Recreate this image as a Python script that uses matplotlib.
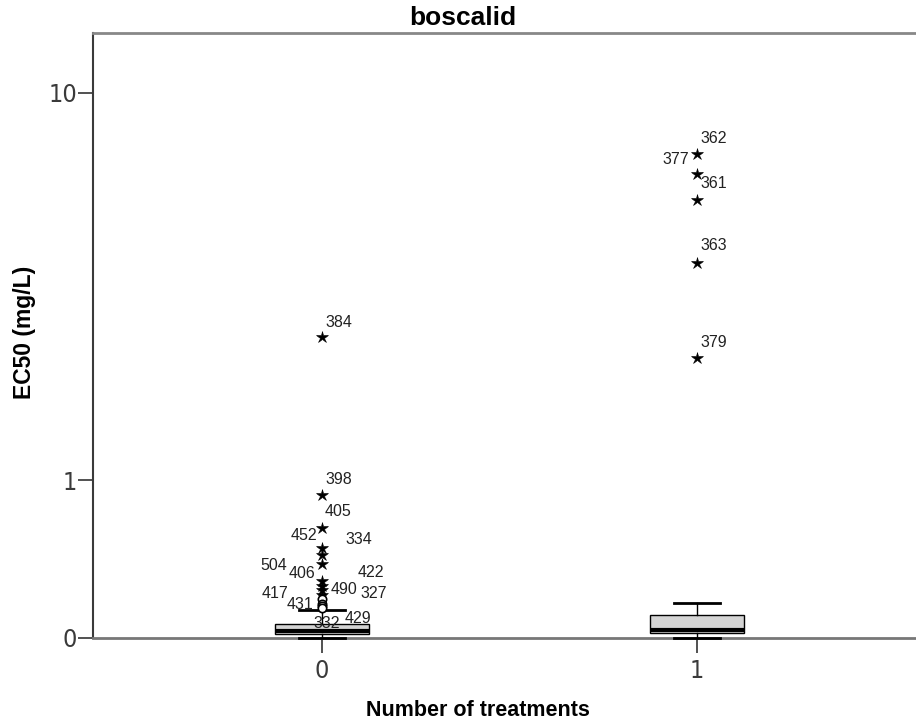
import numpy as np
import matplotlib
matplotlib.use("Agg")
import matplotlib.pyplot as plt
from matplotlib import font_manager


GROUPS = [0, 1]
# five-number summary per group, EC50 in mg/L
WHISLO = [0.0, 0.0]
Q1 = [0.016, 0.019]
MEDIAN = [0.031, 0.0345]
Q3 = [0.059, 0.105]
WHISHI = [0.130, 0.163]

# labelled cases outside the whiskers (case number, EC50, extreme?)
OUT0_IDS = [384, 398, 405, 452, 334, 504, 406, 422, 490, 327, 417, 431, 332, 429]
OUT0_VALS = [2.75, 0.87, 0.62, 0.48, 0.435, 0.385, 0.285, 0.257, 0.23, 0.208,
             0.187, 0.161, 0.15, 0.14]
OUT0_EXTREME = [True] * 10 + [False] * 4
OUT1_IDS = [362, 377, 361, 363, 379]
OUT1_VALS = [7.42, 6.71, 5.88, 4.21, 2.42]
OUT1_EXTREME = [True] * 5

# where each case label sits relative to its marker (pixels, alignment)
LABEL_POS0 = [(3, 15, "left"), (3, 16, "left"), (3, 16, "left"), (-5, 13, "right"),
              (23, 16, "left"), (-35, -2, "right"), (-7, 7, "right"), (36, 13, "left"),
              (9, 1, "left"), (38, 1, "left"), (-34, 5, "right"), (-9, -1, "right"),
              (-9, -18, "left"), (23, -11, "left")]
LABEL_POS1 = [(3, 15, "left"), (-8, 14, "right"), (3, 16, "left"),
              (3, 17, "left"), (3, 16, "left")]

SANS = ["Liberation Sans", "DejaVu Sans"]
# narrow face for the tick numbers if one is installed
_names = {f.name for f in font_manager.fontManager.ttflist}
if "Liberation Sans Narrow" in _names:
    TICK_FONT = dict(family="Liberation Sans Narrow")
else:
    TICK_FONT = dict(family="DejaVu Sans", stretch="condensed", weight="light")
print(sorted(n for n in _names if "Narrow" in n or "Condensed" in n))


def fwd(v):
    return np.log10(1 + np.clip(v, -0.99, None))


def inv(u):
    return 10 ** u - 1


W, H = 916, 724
fig = plt.figure(figsize=(W / 100, H / 100), dpi=100)
x0, x1, y_top, y_bot = 93, 926, 33, 637.5
ax = fig.add_axes([x0 / W, 1 - y_bot / H, (x1 - x0) / W, (y_bot - y_top) / H])
ax.set_yscale("function", functions=(fwd, inv))
ax.set_ylim(0, inv((y_bot - y_top) / 522.9))
ax.set_xlim(-0.6107, 1.6107)

stats = []
for i, g in enumerate(GROUPS):
    stats.append({"whislo": WHISLO[i], "q1": Q1[i], "med": MEDIAN[i],
                  "q3": Q3[i], "whishi": WHISHI[i], "fliers": []})
art = ax.bxp(stats, positions=GROUPS, widths=0.25, patch_artist=True,
             showfliers=False, capwidths=0.125,
             boxprops=dict(facecolor="#d4d4d4", edgecolor="black", linewidth=1),
             medianprops=dict(color="black", linewidth=3),
             whiskerprops=dict(color="black", linewidth=1),
             capprops=dict(color="black", linewidth=2))
for key in ("boxes", "medians", "whiskers", "caps"):
    for a in art[key]:
        a.set_zorder(3)
        a.set_clip_on(False)

for g, ids, vals, ext, pos in [(0, OUT0_IDS, OUT0_VALS, OUT0_EXTREME, LABEL_POS0),
                               (1, OUT1_IDS, OUT1_VALS, OUT1_EXTREME, LABEL_POS1)]:
    for cid, v, e, (dx, dy, ha) in zip(ids, vals, ext, pos):
        if e:
            ax.plot(g, v, marker="*", ms=9, mfc="black", mec="black",
                    mew=0.4, zorder=4)
        else:
            ax.plot(g, v, marker="o", ms=6, mfc="white", mec="black",
                    mew=1.2, zorder=4)
        ax.annotate(str(cid), xy=(g, v), xytext=(dx, dy),
                    textcoords="offset pixels", ha=ha, va="center",
                    fontsize=11.5, family=SANS, color="#222222")

ax.set_yticks([0, 1, 10])
ax.set_yticklabels(["0", "1", "10"])
ax.set_xticks(GROUPS)
ax.set_xticklabels([str(g) for g in GROUPS])
ax.yaxis.set_minor_locator(matplotlib.ticker.NullLocator())
ax.tick_params(axis="both", length=10.8, width=1.2, color="#333333",
               labelsize=18, labelcolor="#3a3a3a")
ax.tick_params(axis="y", pad=0.8)
ax.tick_params(axis="x", pad=5)
for lab in ax.get_xticklabels() + ax.get_yticklabels():
    lab.set(**TICK_FONT)

ax.spines["left"].set_color("#3a3a3a")
ax.spines["left"].set_linewidth(1.5)
ax.spines["top"].set_color("#888888")
ax.spines["top"].set_linewidth(2)
ax.spines["bottom"].set_color("#777777")
ax.spines["bottom"].set_linewidth(2)
ax.spines["right"].set_visible(False)

fig.text(463 / W, 1 - 18 / H, "boscalid", ha="center", va="center",
         fontsize=19, fontweight="bold", family=SANS)
fig.text(478 / W, 1 - 710 / H, "Number of treatments", ha="center", va="center",
         fontsize=15.5, fontweight="bold", family=SANS)
fig.text(24 / W, 1 - 332 / H, "EC50 (mg/L)", ha="center", va="center",
         rotation=90, fontsize=16.5, fontweight="bold", family=SANS)

fig.savefig("out.png", dpi=100)
